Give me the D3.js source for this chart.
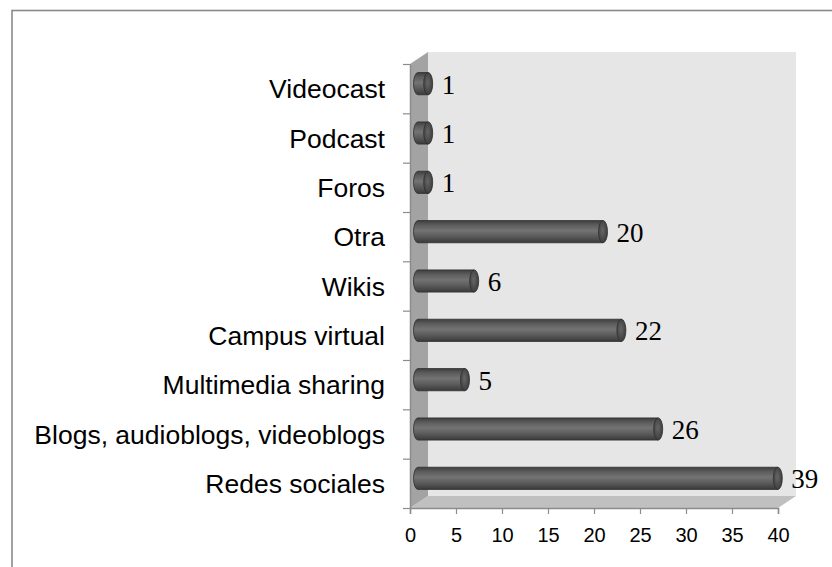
<!DOCTYPE html>
<html>
<head>
<meta charset="utf-8">
<script src="https://cdn.jsdelivr.net/npm/d3@7"></script>
<style>
  body { margin: 0; background: #fff; }
  svg { display: block; }
</style>
</head>
<body>
<svg id="chart" width="832" height="567"></svg>
<script>
// categories top to bottom, as in the picture
const categories = ['Videocast', 'Podcast', 'Foros', 'Otra', 'Wikis', 'Campus virtual',
  'Multimedia sharing', 'Blogs, audioblogs, videoblogs', 'Redes sociales'];
const values = [1, 1, 1, 20, 6, 22, 5, 26, 39];
const xTicks = [0, 5, 10, 15, 20, 25, 30, 35, 40];

const svg = d3.select('#chart');

// frame around the chart area (runs off the right and bottom of the picture)
svg.append('rect')
  .attr('x', 12).attr('y', 10.5)
  .attr('width', 840).attr('height', 600)
  .attr('fill', 'none')
  .attr('stroke', '#8a8a8a')
  .attr('stroke-width', 1.6);

// front plane of the 3d box, plus depth offset of the back wall
const plotLeft = 410, plotRight = 778, plotTop = 64, plotBottom = 508;
const depth = { dx: 18, dy: -12 };
// bars sit a little behind the front plane
const barOff = { dx: 9, dy: -5 };

const x = d3.scaleLinear().domain([0, 40]).range([plotLeft, plotRight]);
const y = d3.scaleBand().domain(categories).range([plotTop, plotBottom]);

const defs = svg.append('defs');
const grad = defs.append('linearGradient')
  .attr('id', 'cyl').attr('x1', 0).attr('y1', 0).attr('x2', 0).attr('y2', 1);
[[0, '#3e3e3e'], [0.2, '#5c5c5c'], [0.45, '#737373'], [0.7, '#5c5c5c'], [1, '#3a3a3a']]
  .forEach(([o, c]) => grad.append('stop').attr('offset', o).attr('stop-color', c));
const capGrad = defs.append('radialGradient')
  .attr('id', 'cap').attr('cx', 0.45).attr('cy', 0.45).attr('r', 0.7);
[[0, '#666'], [1, '#333']]
  .forEach(([o, c]) => capGrad.append('stop').attr('offset', o).attr('stop-color', c));

const pts = (arr) => arr.map((p) => p.join(',')).join(' ');

// back wall
svg.append('rect')
  .attr('x', plotLeft + depth.dx).attr('y', plotTop + depth.dy)
  .attr('width', plotRight - plotLeft).attr('height', plotBottom - plotTop)
  .attr('fill', '#e6e6e6');

// floor
svg.append('polygon')
  .attr('points', pts([[plotLeft, plotBottom], [plotLeft + depth.dx, plotBottom + depth.dy],
    [plotRight + depth.dx, plotBottom + depth.dy], [plotRight, plotBottom]]))
  .attr('fill', '#c0c0c0');

// side wall
svg.append('polygon')
  .attr('points', pts([[plotLeft, plotTop], [plotLeft + depth.dx, plotTop + depth.dy],
    [plotLeft + depth.dx, plotBottom + depth.dy], [plotLeft, plotBottom]]))
  .attr('fill', '#a3a3a3');

// category axis
const yAxis = svg.append('g')
  .attr('transform', `translate(${plotLeft},0)`)
  .call(d3.axisLeft(y).tickSize(0).tickPadding(25));
yAxis.select('.domain').attr('stroke', '#8c8c8c').attr('stroke-width', 1.5);
yAxis.selectAll('text')
  .attr('font-family', 'Liberation Sans, Arial, sans-serif')
  .attr('font-size', 26.5)
  .attr('dy', '0.36em')
  .attr('fill', '#000');
// ticks between categories
const bounds = categories.map((c) => y(c)).concat([plotBottom]);
svg.append('g').selectAll('line').data(bounds).join('line')
  .attr('x1', plotLeft - 7).attr('x2', plotLeft)
  .attr('y1', (d) => d + 0.5).attr('y2', (d) => d + 0.5)
  .attr('stroke', '#8c8c8c').attr('stroke-width', 1.2);

// value axis
const xAxis = svg.append('g')
  .attr('transform', `translate(0,${plotBottom})`)
  .call(d3.axisBottom(x).tickValues(xTicks).tickSize(6).tickPadding(14));
xAxis.select('.domain').attr('stroke', '#8c8c8c').attr('stroke-width', 1.5);
xAxis.selectAll('.tick line').attr('stroke', '#8c8c8c').attr('stroke-width', 1.2);
xAxis.selectAll('text')
  .attr('font-family', 'Liberation Sans, Arial, sans-serif')
  .attr('font-size', 20)
  .attr('fill', '#000');

// cylinder bars
const bh = y.bandwidth() * 0.45;
const rx = 4.5;
const bars = svg.append('g').selectAll('g').data(categories).join('g')
  .attr('transform', (d) => `translate(${barOff.dx},${y(d) + y.bandwidth() / 2 + barOff.dy})`);

bars.append('path')
  .attr('d', (d, i) => {
    const x0 = x(0) - 1, x1 = x(values[i]);
    return `M${x1},${-bh / 2} L${x0},${-bh / 2} A${rx},${bh / 2} 0 0 0 ${x0},${bh / 2} L${x1},${bh / 2} Z`;
  })
  .attr('fill', 'url(#cyl)')
  .attr('stroke', '#2f2f2f')
  .attr('stroke-width', 0.8);

bars.append('ellipse')
  .attr('cx', (d, i) => x(values[i]))
  .attr('cy', 0)
  .attr('rx', rx).attr('ry', bh / 2)
  .attr('fill', 'url(#cap)')
  .attr('stroke', '#2f2f2f')
  .attr('stroke-width', 0.8);

// value labels
bars.append('text')
  .attr('x', (d, i) => x(values[i]) + rx + 9)
  .attr('y', 10)
  .attr('font-family', 'Liberation Serif, Times New Roman, serif')
  .attr('font-size', 27)
  .attr('fill', '#000')
  .text((d, i) => values[i]);
</script>
</body>
</html>
